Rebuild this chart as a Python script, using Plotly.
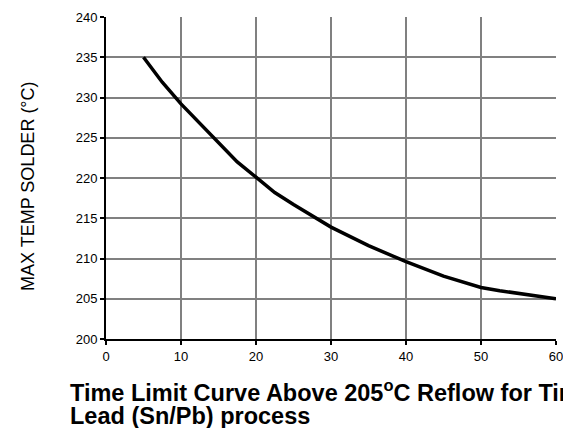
import plotly.graph_objects as go

time_s = [5, 7.5, 10, 12.5, 15, 17.5, 20, 22.5, 25, 30, 35, 40, 45, 50, 52.5, 55, 60]
max_temp = [235, 231.9, 229.2, 226.8, 224.3, 222.0, 220.1, 218.2, 216.7, 213.9, 211.6, 209.6, 207.8, 206.4, 206.0, 205.7, 205.0]

x_ticks = [0, 10, 20, 30, 40, 50, 60]
y_ticks = [200, 205, 210, 215, 220, 225, 230, 235, 240]

title_line1 = "Time Limit Curve Above 205<sup>o</sup>C Reflow for Tin"
title_line2 = "Lead (Sn/Pb) process"
y_title = "MAX TEMP SOLDER (°C)"

FONT = "Arial, Liberation Sans, sans-serif"

fig = go.Figure()
fig.add_trace(go.Scatter(x=time_s, y=max_temp, mode="lines",
                         line=dict(color="black", width=3.5), showlegend=False,
                         hoverinfo="skip", cliponaxis=False))

fig.update_layout(
    width=563, height=428,
    margin=dict(l=106, r=7, t=17, b=89, autoexpand=False),
    paper_bgcolor="white", plot_bgcolor="white",
    font=dict(family=FONT, color="black"),
    xaxis=dict(range=[0, 60], tickvals=x_ticks, ticktext=[str(v) for v in x_ticks],
               showgrid=True, gridcolor="#808080", gridwidth=1.5,
               showline=True, linecolor="black", linewidth=2,
               ticks="outside", ticklen=4, tickwidth=2, tickcolor="black",
               ticklabeloverflow="allow", automargin=False,
               tickfont=dict(size=13, family=FONT), zeroline=False, fixedrange=True),
    yaxis=dict(range=[200, 240], tickvals=y_ticks, ticktext=[str(v) for v in y_ticks],
               showgrid=True, gridcolor="#808080", gridwidth=1.5,
               showline=True, linecolor="black", linewidth=2,
               ticks="outside", ticklen=4, tickwidth=2, tickcolor="black",
               ticklabeloverflow="allow", automargin=False,
               tickfont=dict(size=13, family=FONT), zeroline=False, fixedrange=True),
)

fig.add_annotation(text="<b>" + title_line1 + "</b>", xref="paper", yref="paper",
                   x=-0.084, y=(339 - 391) / 322, xanchor="left", yanchor="middle",
                   showarrow=False, font=dict(size=23.5, family=FONT, color="black"))
fig.add_annotation(text="<b>" + title_line2 + "</b>", xref="paper", yref="paper",
                   x=-0.084, y=(339 - 416) / 322, xanchor="left", yanchor="middle",
                   showarrow=False, font=dict(size=23.5, family=FONT, color="black"))
fig.add_annotation(text=y_title, xref="paper", yref="paper",
                   x=(28 - 106) / 450, y=(339 - 186) / 322, xanchor="center", yanchor="middle",
                   textangle=-90, showarrow=False, font=dict(size=18, family=FONT, color="black"))

fig.write_html("out.html", config={"displayModeBar": False},
               post_script="document.body.style.margin='0';document.body.style.overflow='hidden';")
